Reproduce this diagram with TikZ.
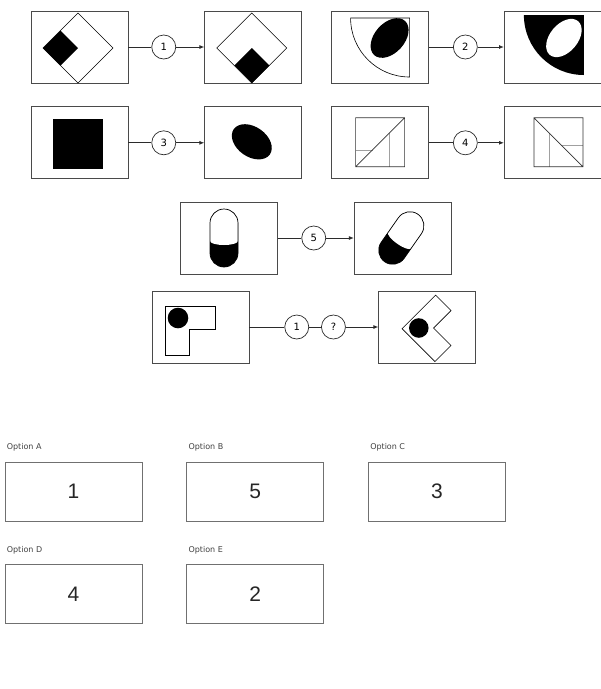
\documentclass[tikz,border=0pt]{standalone}
\usepackage{fontspec}
\setmainfont{Liberation Sans}
\newfontfamily\dejavu{DejaVu Sans}
\usetikzlibrary{arrows.meta,positioning,calc}
\definecolor{frameg}{HTML}{4A4A4A}
\definecolor{inkg}{HTML}{2B2B2B}
\definecolor{hairg}{HTML}{A0A0A0}
\definecolor{optg}{HTML}{707070}
\definecolor{labg}{HTML}{404040}

\begin{document}
\begin{tikzpicture}[x=1pt,y=-1pt,
  panel/.style={draw=frameg,line width=0.8pt,fill=white,
                minimum width=97pt,minimum height=72pt,inner sep=0pt},
  rulenode/.style={circle,draw=inkg,line width=0.7pt,fill=white,
                minimum size=24pt,inner sep=0pt,font=\dejavu\fontsize{10}{10}\selectfont},
  link/.style={line width=0.9pt,inkg},
  arr/.style={-{Latex[length=5pt,width=4pt]},line width=0.9pt,inkg},
  outl/.style={draw=black,line width=0.6pt,fill=white},
  sq/.style={line width=0.7pt,black!80},
  hair/.style={line width=0.6pt,hairg},
  optbox/.style={draw=optg,line width=0.7pt,minimum width=137pt,minimum height=59pt,
                inner sep=0pt,font=\fontsize{21}{21}\selectfont,text=black!85},
  optlabel/.style={inner sep=0pt,anchor=base west,
                font=\dejavu\fontsize{8}{8}\selectfont,text=labg}]
  \useasboundingbox (0,0) rectangle (601,689);
  % top row
  \node[panel] (pA1) at (79.5,47) {};
  \node[panel,right=76pt of pA1] (pA2) {};
  \node[panel,right=29pt of pA2] (pB1) {};
  \node[panel,right=75pt of pB1] (pB2) {};
  \node[rulenode,right=23pt of pA1] (r1) {1};
  \node[rulenode,right=24pt of pB1] (r2) {2};
  % second row
  \node[panel,below=23pt of pA1] (pC1) {};
  \node[panel,below=23pt of pA2] (pC2) {};
  \node[panel,below=23pt of pB1] (pD1) {};
  \node[panel,below=23pt of pB2] (pD2) {};
  \node[rulenode,right=23pt of pC1] (r3) {3};
  \node[rulenode,right=24pt of pD1] (r4) {4};
  % third row
  \node[panel] (pE1) at (229,238) {};
  \node[panel,right=76pt of pE1] (pE2) {};
  \node[rulenode,right=23.5pt of pE1] (r5) {5};
  % question row
  \node[panel] (pF1) at (200.5,327) {};
  \node[panel,right=129pt of pF1] (pF2) {};
  \node[rulenode,right=35pt of pF1] (r6) {1};
  \node[rulenode,right=12pt of r6] (r7) {?};

  \foreach \a/\r/\b in {pA1/r1/pA2,pB1/r2/pB2,pC1/r3/pC2,pD1/r4/pD2,pE1/r5/pE2}{
    \draw[link] (\a) -- (\r);
    \draw[arr] (\r) -- (\b);
  }
  \draw[link] (pF1) -- (r6);
  \draw[link] (r6) -- (r7);
  \draw[arr] (r7) -- (pF2);

  % rule 1: diamonds
  \begin{scope}[shift={(pA1.center)}]
    \draw[outl] (-1.5,-34) -- (33.5,1) -- (-1.5,36) -- (-36.5,1) -- cycle;
    \fill (-36.5,1) -- (-19,-16.5) -- (-1.5,1) -- (-19,18.5) -- cycle;
  \end{scope}
  \begin{scope}[shift={(pA2.center)}]
    \draw[outl] (-1.5,-34) -- (33.5,1) -- (-1.5,36) -- (-36.5,1) -- cycle;
    \fill (-1.5,1) -- (16,18.5) -- (-1.5,36) -- (-19,18.5) -- cycle;
  \end{scope}
  % rule 2: quarter discs
  \begin{scope}[shift={(pB1.center)}]
    \draw[outl] (-29.5,-29) -- (29.5,-29) -- (29.5,30)
      arc[start angle=90,end angle=180,radius=59] -- cycle;
    \fill[shift={(9.5,-9)},rotate=48] (0,0) ellipse[x radius=23pt,y radius=15pt];
  \end{scope}
  \begin{scope}[shift={(pB2.center)}]
    \fill (-29,-32) -- (31,-32) -- (31,28)
      arc[start angle=90,end angle=180,radius=60] -- cycle;
    \fill[white,shift={(11,-9)},rotate=50] (0,0) ellipse[x radius=22pt,y radius=14pt];
  \end{scope}
  % rule 3: square to ellipse
  \begin{scope}[shift={(pC1.center)}]
    \fill (-26.5,-24) rectangle (23.5,26);
  \end{scope}
  \begin{scope}[shift={(pC2.center)}]
    \fill[shift={(-1.5,-1)},rotate=-35] (0,0) ellipse[x radius=22pt,y radius=15pt];
  \end{scope}
  % rule 4: split squares
  \begin{scope}[shift={(pD1.center)}]
    \draw[hair] (9.5,-10) -- (9.5,24) (-24.5,7) -- (-7.5,7);
    \draw[sq] (-24.5,-25) rectangle (24.5,24) (-24.5,24) -- (24.5,-25);
  \end{scope}
  \begin{scope}[shift={(pD2.center)}]
    \draw[hair] (-4,-10) -- (-4,24) (8,2) -- (30,2);
    \draw[sq] (-19,-25) rectangle (30,24) (-19,-25) -- (30,24);
  \end{scope}
  % rule 5: capsules
  \begin{scope}[shift={(pE1.center)},xshift=-5pt]
    \fill[rounded corners=14pt] (-14,-29) rectangle (14,29);
    \fill[white] (0,-15) circle[radius=14pt];
    \fill[white] (-14,-15) rectangle (14,3);
    \fill[white] (0,3) ellipse[x radius=14pt,y radius=4pt];
    \draw[line width=0.7pt,rounded corners=14pt] (-14,-29) rectangle (14,29);
  \end{scope}
  \begin{scope}[shift={(pE2.center)},xshift=-1.5pt,rotate=-35]
    \fill[rounded corners=14pt] (-14,-29) rectangle (14,29);
    \fill[white] (0,-15) circle[radius=14pt];
    \fill[white] (-14,-15) rectangle (14,3);
    \fill[white] (0,3) ellipse[x radius=14pt,y radius=4pt];
    \draw[line width=0.7pt,rounded corners=14pt] (-14,-29) rectangle (14,29);
  \end{scope}
  % question: L shapes
  \begin{scope}[shift={(pF1.center)},shift={(-22.5,-9)}]
    \draw[outl] (-13,-12) -- (37,-12) -- (37,11) -- (11,11) -- (11,37) -- (-13,37) -- cycle;
    \fill (0,0) circle[radius=10.3pt];
  \end{scope}
  \begin{scope}[shift={(pF2.center)},shift={(-8.5,1)},rotate=45,scale=0.95]
    \draw[outl] (-13,-12) -- (37,-12) -- (37,11) -- (11,11) -- (11,37) -- (-13,37) -- cycle;
    \fill (0,0) circle[radius=10.3pt];
  \end{scope}

  % answer options
  \node[optbox] (optA) at (73.5,491.5) {1};
  \node[optbox,right=44pt of optA] (optB) {5};
  \node[optbox,right=44pt of optB] (optC) {3};
  \node[optbox,below=43pt of optA] (optD) {4};
  \node[optbox,right=44pt of optD] (optE) {2};
  \foreach \o in {A,B,C,D,E}
    \node[optlabel] (lab\o) at ([xshift=2pt,yshift=12pt]opt\o.north west) {Option \o};
\end{tikzpicture}
\end{document}
